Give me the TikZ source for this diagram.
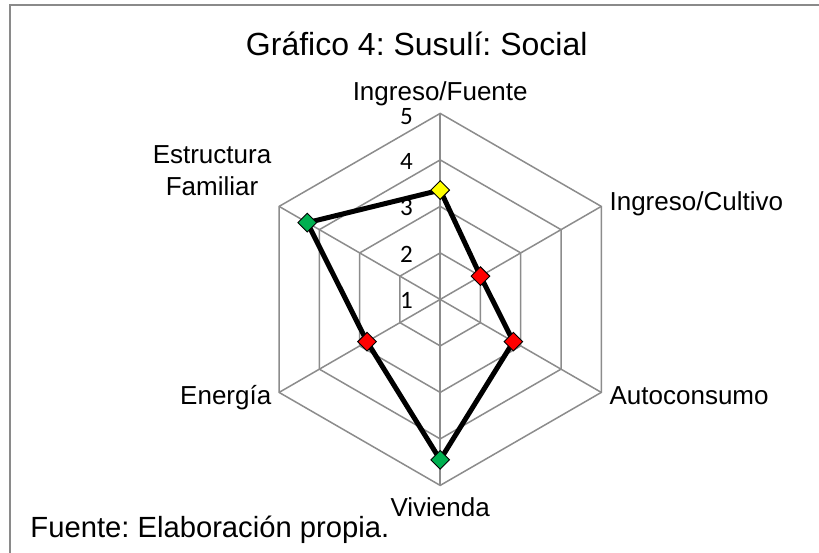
\documentclass[tikz,border=0pt]{standalone}
\usepackage{fontspec}
\setmainfont{Liberation Sans}
\newfontfamily\numfont{Carlito}
\usetikzlibrary{shapes.geometric,calc}
\definecolor{gridgray}{HTML}{8C8C8C}
\definecolor{framegray}{HTML}{8A8A8A}
\definecolor{mkgreen}{HTML}{00B050}
\definecolor{mkred}{HTML}{FF0000}
\definecolor{mkyellow}{HTML}{FFFF00}
\frenchspacing
\begin{document}
\begin{tikzpicture}[x=1pt,y=-1pt,
  grid/.style={draw=gridgray, line width=1.5pt},
  dataline/.style={draw=black, line width=5pt, line join=round},
  marker/.style={diamond, draw=black, line width=0.9pt, minimum size=19pt, inner sep=0pt, aspect=1},
  axlabel/.style={font=\fontsize{26}{31.6}\selectfont, inner sep=0pt},
  numlabel/.style={font=\numfont\fontsize{25}{27}\selectfont, inner sep=0pt, anchor=east},
]
\useasboundingbox (0,0) rectangle (819,552);
\fill[white] (0,0) rectangle (819,552);
\clip (0,0) rectangle (819,552);
% frame
\draw[draw=framegray, line width=2pt] (9.5,570) -- (9.5,5) -- (840,5);
\coordinate (C) at (440.2,299.4);
% rings
\foreach \r in {46.5,93,139.5,186}{
  \draw[grid, shift={(C)}] (90:\r pt) -- (30:\r pt) -- (-30:\r pt) -- (-90:\r pt) -- (-150:\r pt) -- (150:\r pt) -- cycle;
}
% spokes
\foreach \a in {90,30,-30,-90,-150,150}{
  \draw[grid] (C) -- ($(C)+(\a:186pt)$);
}
% scale numbers
\node[numlabel] (n1) at (413,300) {1};
\node[numlabel] (n2) at (413,254) {2};
\node[numlabel] (n3) at (413,207) {3};
\node[numlabel] (n4) at (413,161) {4};
\node[numlabel] (n5) at (413,116.5) {5};
% data points
\coordinate (p1) at ($(C)+(90:109.3pt)$);
\coordinate (p2) at ($(C)+(30:46.5pt)$);
\coordinate (p3) at ($(C)+(-30:84.5pt)$);
\coordinate (p4) at ($(C)+(-90:160.4pt)$);
\coordinate (p5) at ($(C)+(-150:84.5pt)$);
\coordinate (p6) at ($(C)+(150:153.5pt)$);
\draw[dataline] (p1) -- (p2) -- (p3) -- (p4) -- (p5) -- (p6) -- cycle;
\node[marker, fill=mkyellow] (m1) at (p1) {};
\node[marker, fill=mkred] (m2) at (p2) {};
\node[marker, fill=mkred] (m3) at (p3) {};
\node[marker, fill=mkgreen] (m4) at (p4) {};
\node[marker, fill=mkred] (m5) at (p5) {};
\node[marker, fill=mkgreen] (m6) at (p6) {};
% axis labels
\node[axlabel, anchor=base] (l1) at (440.2,100) {Ingreso/Fuente};
\node[axlabel, anchor=base west] (l2) at (609.4,210) {Ingreso/Cultivo};
\node[axlabel, anchor=base west] (l3) at (609.4,404) {Autoconsumo};
\node[axlabel, anchor=base] (l4) at (440.2,516.5) {Vivienda};
\node[axlabel, anchor=base east] (l5) at (271.5,404) {Energía};
\node[axlabel, anchor=base, align=center] (l6) at (212,195.4) {Estructura\\Familiar};
% title and source
\node[inner sep=0pt, anchor=base, font=\fontsize{32}{36}\selectfont] (title) at (416.7,55) {Gráfico 4: Susulí: Social};
\node[inner sep=0pt, anchor=base west, font=\fontsize{29.2}{34}\selectfont] (src) at (30.3,537.5) {Fuente: Elaboración propia.};
\end{tikzpicture}
\end{document}
